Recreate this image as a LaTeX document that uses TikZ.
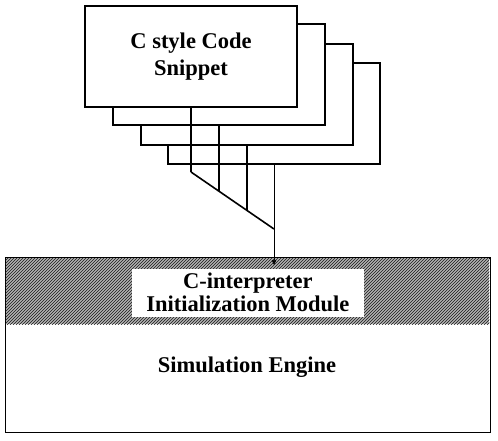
\documentclass[tikz,border=0pt]{standalone}
\usepackage{fontspec}
\setmainfont{Liberation Serif}
\usetikzlibrary{patterns,arrows.meta}
\begin{document}
\begin{tikzpicture}[x=1pt,y=-1pt,
  snip/.style={draw=black,line width=1.7pt,fill=white,minimum width=212pt,minimum height=101pt,inner sep=0pt,anchor=center},
  link/.style={line width=1.6pt},
  lbl/.style={font=\fontsize{22.5}{25}\selectfont\bfseries,align=center}]
\useasboundingbox (0,0) rectangle (498,440);
% stacked snippet boxes (back to front)
\node[snip] (s4) at (274,113.5) {};
\node[snip] (s3) at (247,94.5) {};
\node[snip] (s2) at (219,74.5) {};
\node[snip,lbl] (s1) at (191,56.5) {C style Code\\[2pt]Snippet};
% collecting lines
\coordinate (d1) at (191,172);
\coordinate (d2) at (219,191.3);
\coordinate (d3) at (247,210.5);
\coordinate (d4) at (274,229);
\draw[link] (s1.south) -- (d1);
\draw[link] (s2.south) -- (d2);
\draw[link] (s3.south) -- (d3);
\draw[link] (d1) -- (d4);
% simulation engine
\node[draw=black,line width=1.2pt,minimum width=485pt,minimum height=174.5pt,inner sep=0pt,anchor=north west] (eng) at (5,257.3) {};
\fill[gray!60] (5.6,257.9) rectangle (489.4,324);
\fill[pattern=north east lines,pattern color=black!90] (5.6,257.9) rectangle (489.4,324);
\draw[line width=1.2pt] (eng.north west) -- (eng.north east);
\node[fill=white,minimum width=232pt,minimum height=48pt,inner sep=0pt,anchor=north west,lbl,font=\fontsize{22.5}{22.5}\selectfont\bfseries] (ci) at (131.7,268.3) {C-interpreter\\Initialization Module};
\node[lbl] (se) at (247,366.7) {Simulation Engine};
% arrow
\coordinate (tip) at (274,265);
\draw[line width=0.6pt,-{Triangle[length=5pt,width=4.5pt]}] (s4.south) -- (tip);
\end{tikzpicture}
\end{document}
